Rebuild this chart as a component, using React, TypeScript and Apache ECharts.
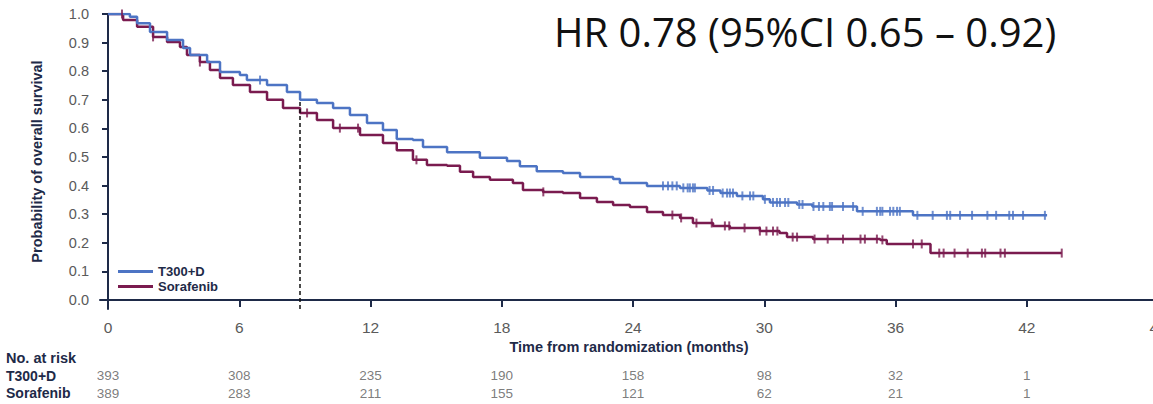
import React, { useEffect, useRef } from "react";
import * as echarts from "echarts";

// ---- Data ----
const armNames = ["T300+D", "Sorafenib"];
// Kaplan-Meier step points (months, survival probability)
const t300Times = [0, 1.0, 1.33, 1.92, 2.7, 3.43, 3.75, 4.53, 5.12, 6.03, 6.35, 7.27, 8.18, 8.78, 9.55, 10.29, 11.06, 11.84, 12.57, 13.2, 13.94, 14.4, 15.5, 17.0, 18.24, 18.83, 19.6, 20.8, 21.58, 23.09, 23.4, 24.64, 26.15, 27.4, 28.0, 28.75, 29.94, 30.26, 31.5, 32.2, 34.24, 36.8, 42.93];
const t300Surv = [1.0, 0.99, 0.968, 0.937, 0.909, 0.881, 0.857, 0.832, 0.797, 0.787, 0.769, 0.752, 0.727, 0.70, 0.689, 0.671, 0.647, 0.619, 0.594, 0.563, 0.559, 0.535, 0.517, 0.497, 0.486, 0.468, 0.45, 0.444, 0.43, 0.423, 0.409, 0.399, 0.392, 0.383, 0.374, 0.364, 0.352, 0.341, 0.334, 0.327, 0.31, 0.296, 0.296];
const sorTimes = [0, 0.69, 1.33, 2.06, 2.7, 3.29, 3.61, 4.2, 4.66, 5.12, 5.71, 6.49, 7.27, 8.0, 8.78, 9.55, 10.29, 11.52, 12.57, 13.2, 13.94, 14.58, 15.5, 16.09, 16.69, 17.46, 18.51, 18.97, 19.89, 20.8, 21.58, 22.35, 23.09, 23.86, 24.64, 25.37, 26.15, 26.74, 27.66, 28.43, 29.8, 30.7, 31.04, 32.23, 35.3, 35.6, 37.6, 43.6];
const sorSurv = [1.0, 0.979, 0.955, 0.92, 0.902, 0.885, 0.857, 0.832, 0.804, 0.776, 0.752, 0.727, 0.70, 0.671, 0.654, 0.629, 0.601, 0.577, 0.549, 0.524, 0.49, 0.472, 0.469, 0.448, 0.43, 0.42, 0.409, 0.385, 0.378, 0.374, 0.357, 0.343, 0.332, 0.325, 0.308, 0.297, 0.287, 0.269, 0.259, 0.252, 0.241, 0.234, 0.22, 0.213, 0.21, 0.196, 0.164, 0.164];
// Censoring times (months)
const t300Censor = [6.95, 25.37, 25.6, 25.8, 26.0, 26.3, 26.5, 26.6, 26.74, 26.83, 27.5, 27.66, 28.1, 28.3, 28.43, 28.57, 29.0, 29.35, 29.5, 30.03, 30.4, 30.58, 30.72, 30.95, 31.1, 31.6, 31.75, 32.25, 32.5, 32.7, 33.0, 33.1, 33.6, 34.06, 34.5, 35.15, 35.3, 35.4, 35.75, 35.9, 36.07, 36.2, 37.0, 37.7, 38.35, 38.5, 38.95, 39.5, 40.2, 40.6, 41.2, 41.37, 41.83, 42.83];
const sorCensor = [0.64, 2.06, 4.2, 9.1, 10.6, 11.43, 14.1, 19.9, 25.8, 26.2, 26.9, 27.6, 28.2, 28.4, 29.1, 29.8, 30.1, 30.4, 30.6, 31.3, 31.5, 32.3, 32.9, 33.6, 34.4, 34.6, 35.15, 35.4, 36.8, 37.2, 38.0, 38.2, 38.7, 39.3, 39.95, 40.1, 40.8, 41.0, 43.6];
// Landmark dashed line
const landmarkMonth = 8.78;
const landmarkTop = 0.70;
// Axis ticks
const xTicks = [0, 6, 12, 18, 24, 30, 36, 42, 48];
const yTicks = [0, 0.1, 0.2, 0.3, 0.4, 0.5, 0.6, 0.7, 0.8, 0.9, 1.0];
// Number at risk
const riskMonths = [0, 6, 12, 18, 24, 30, 36, 42];
const riskT300 = [393, 308, 235, 190, 158, 98, 32, 1];
const riskSor = [389, 283, 211, 155, 121, 62, 21, 1];
const hrText = "HR 0.78 (95%CI 0.65 \u2013 0.92)";

const BLUE = "#4d74c4";
const MAROON = "#7a1b4f";
const NAVY = "#1e2a48";
const GRAY = "#5a5a5a";
const X_MIN = -0.366;
const X_MAX = 48;
const Y_MIN = -0.0315;

function survAt(times: number[], surv: number[], t: number) {
  let v = surv[0];
  for (let i = 0; i < times.length; i++) {
    if (times[i] <= t) v = surv[i];
  }
  return v;
}

export default function App() {
  const ref = useRef<HTMLDivElement>(null);
  useEffect(() => {
    if (!ref.current) return;
    const chart = echarts.init(ref.current, undefined, { renderer: "svg" });
    const font = "'Liberation Sans', Arial, sans-serif";
    const option: any = {
      animation: false,
      textStyle: { fontFamily: font },
      grid: [
        { left: 100, right: -5, top: 14, bottom: 95, outerBoundsMode: "none", containLabel: false },
        { left: 100, right: -5, top: 367, height: 35, outerBoundsMode: "none", containLabel: false },
      ],
      legend: {
        data: armNames,
        orient: "vertical",
        left: 113,
        top: 260,
        itemWidth: 35,
        itemHeight: 3,
        itemGap: 2,
        icon: "rect",
        textStyle: { color: NAVY, fontWeight: "bold", fontSize: 13, fontFamily: font },
      },
      graphic: [
        {
          type: "text",
          left: 6,
          top: 350,
          style: { text: "No. at risk", fill: NAVY, font: `bold 14.5px ${font}` },
        },
        {
          type: "text",
          x: 554,
          y: 11,
          style: {
            text: hrText,
            fill: "#111",
            font: "40px 'Open Sans', Lato, sans-serif",
            textVerticalAlign: "top",
          },
        },
      ],
      xAxis: [
        {
          type: "value",
          gridIndex: 0,
          min: X_MIN,
          max: X_MAX,
          name: "Time from randomization (months)",
          nameLocation: "middle",
          nameGap: 30,
          nameTextStyle: { color: NAVY, fontWeight: "bold", fontSize: 14.5, fontFamily: font },
          axisLine: { show: true, lineStyle: { color: NAVY, width: 2 } },
          axisTick: { show: true, customValues: xTicks, length: 7, lineStyle: { color: NAVY, width: 2 } },
          axisLabel: { show: true, customValues: xTicks, color: GRAY, fontSize: 15.5, margin: 10, formatter: (v: number) => String(v) },
          splitLine: { show: false },
        },
        {
          type: "value",
          gridIndex: 1,
          min: X_MIN,
          max: X_MAX,
          show: false,
        },
      ],
      yAxis: [
        {
          type: "value",
          gridIndex: 0,
          min: Y_MIN,
          max: 1,
          name: "Probability of overall survival",
          nameLocation: "middle",
          nameGap: 56,
          nameRotate: 90,
          nameTextStyle: { color: NAVY, fontWeight: "bold", fontSize: 14.5, fontFamily: font },
          axisLine: { show: true, lineStyle: { color: NAVY, width: 2 } },
          axisTick: { show: true, customValues: yTicks, length: 6, lineStyle: { color: NAVY, width: 2 } },
          axisLabel: { show: true, customValues: yTicks, color: GRAY, fontSize: 14.5, margin: 11, formatter: (v: number) => v.toFixed(1) },
          splitLine: { show: false },
        },
        {
          type: "category",
          gridIndex: 1,
          data: armNames,
          inverse: true,
          axisLine: { show: false },
          axisTick: { show: false },
          axisLabel: { show: true, interval: 0, hideOverlap: false, align: "left", margin: 94, color: NAVY, fontWeight: "bold", fontSize: 14, fontFamily: font },
        },
      ],
      series: [
        {
          name: armNames[0],
          type: "line",
          step: "end",
          xAxisIndex: 0,
          yAxisIndex: 0,
          symbol: "none",
          color: BLUE,
          lineStyle: { color: BLUE, width: 2.5 },
          data: t300Times.map((t, i) => [t, t300Surv[i]]),
          z: 3,
          markLine: {
            silent: true,
            symbol: "none",
            label: { show: false },
            lineStyle: { color: "#111", type: [4, 3], width: 1.5 },
            data: [[{ coord: [landmarkMonth, Y_MIN] }, { coord: [landmarkMonth, landmarkTop] }]],
          },
        },
        {
          name: armNames[1],
          type: "line",
          step: "end",
          xAxisIndex: 0,
          yAxisIndex: 0,
          symbol: "none",
          color: MAROON,
          lineStyle: { color: MAROON, width: 2.5 },
          data: sorTimes.map((t, i) => [t, sorSurv[i]]),
          z: 2,
        },
        {
          name: "T300+D censored",
          type: "scatter",
          xAxisIndex: 0,
          yAxisIndex: 0,
          symbol: "rect",
          symbolSize: [2, 9],
          itemStyle: { color: BLUE },
          data: t300Censor.map((t) => [t, survAt(t300Times, t300Surv, t)]),
          z: 4,
        },
        {
          name: "Sorafenib censored",
          type: "scatter",
          xAxisIndex: 0,
          yAxisIndex: 0,
          symbol: "rect",
          symbolSize: [2, 9],
          itemStyle: { color: MAROON },
          data: sorCensor.map((t) => [t, survAt(sorTimes, sorSurv, t)]),
          z: 4,
        },
        {
          name: "risk",
          type: "scatter",
          xAxisIndex: 1,
          yAxisIndex: 1,
          symbolSize: 0,
          label: { show: true, position: "inside", color: GRAY, fontSize: 13.5, formatter: (p: any) => String(p.value[2]) },
          data: [
            ...riskMonths.map((m, i) => [m, armNames[0], riskT300[i]]),
            ...riskMonths.map((m, i) => [m, armNames[1], riskSor[i]]),
          ],
        },
      ],
    };
    chart.setOption(option);
    return () => chart.dispose();
  }, []);
  return (
    <div
      ref={ref}
      style={{ position: "absolute", left: 0, top: 0, width: 1153, height: 404, background: "#fff" }}
    />
  );
}
